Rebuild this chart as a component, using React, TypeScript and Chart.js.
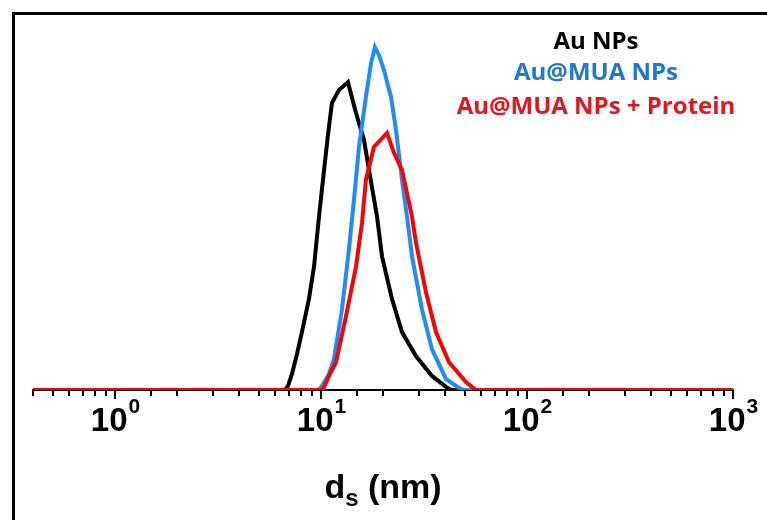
import React, { useEffect, useRef } from "react";
import { Chart, registerables } from "chart.js";

Chart.register(...registerables);

// ---- data (diameter in nm, relative intensity) ----
const X_MIN = 0.4;
const X_MAX = 1000;
const Y_MAX = 110;

const seriesNames = ["Au NPs", "Au@MUA NPs", "Au@MUA NPs + Protein"];
const lineColors = ["#000000", "#1e8cff", "#ff0000"];
const legendColors = ["#000000", "#1f78c8", "#e8141c"];

const auD = [6.69, 6.92, 7.23, 7.65, 8.08, 8.74, 9.25, 9.78, 10.35, 10.81, 11.3, 12.22, 13.52, 14.79, 16.17, 17.1, 18.71, 19.78, 22.13, 24.73, 28.91, 34.57, 40.45, 42.8];
const auV = [0, 1.2, 4.7, 10.5, 16.9, 26.5, 36.0, 50.6, 64.2, 74.4, 83.7, 87.5, 89.8, 80.8, 73.0, 64.2, 50.6, 39.0, 26.5, 16.9, 9.9, 4.1, 0.9, 0];

const muaD = [9.78, 10.11, 10.93, 11.56, 12.64, 13.67, 14.46, 15.29, 16.52, 17.49, 18.28, 19.13, 20.22, 21.87, 23.12, 24.73, 26.14, 27.66, 30.92, 34.57, 40.45, 46.77, 49.44];
const muaV = [0, 1.2, 4.7, 9.0, 23.5, 41.0, 55.5, 70.9, 85.5, 95.3, 100, 97.7, 93.3, 85.5, 75.9, 61.3, 50.6, 39.0, 23.5, 11.9, 3.2, 0.6, 0];

const protD = [10.11, 10.35, 11.06, 11.83, 13.22, 14.79, 15.82, 16.52, 18.07, 20.91, 22.61, 24.73, 27.66, 28.91, 32.34, 36.15, 41.83, 50.55, 56.53];
const protV = [0, 0.9, 4.7, 8.1, 21.5, 36.0, 48.8, 61.3, 70.9, 75.0, 69.2, 64.2, 50.6, 43.0, 28.5, 16.9, 8.1, 2.3, 0];

const majorTickValues = [1, 10, 100, 1000];
const majorTickExps = ["0", "1", "2", "3"];
const axisTitleMain = "d";
const axisTitleSub = "s";
const axisTitleUnit = " (nm)";

function toPoints(d: number[], v: number[]) {
  const pts = [{ x: X_MIN, y: 0 }];
  d.forEach((x, i) => pts.push({ x, y: v[i] }));
  pts.push({ x: X_MAX, y: 0 });
  return pts;
}

const axisPlugin = {
  id: "customAxis",
  afterDraw(chart: any) {
    const ctx = chart.ctx;
    const xs = chart.scales.x;
    const base = chart.chartArea.bottom;
    ctx.save();
    // tick marks
    ctx.strokeStyle = "#000";
    ctx.lineWidth = 2;
    xs.ticks.forEach((t: any) => {
      const v = t.value;
      const lg = Math.log10(v);
      const major = Math.abs(lg - Math.round(lg)) < 1e-9;
      const px = Math.round(xs.getPixelForValue(v));
      ctx.beginPath();
      ctx.moveTo(px, base + 1);
      ctx.lineTo(px, base + (major ? 9 : 6));
      ctx.stroke();
    });
    // tick labels 10^n
    ctx.fillStyle = "#000";
    ctx.textBaseline = "alphabetic";
    ctx.textAlign = "left";
    const big = "bold 33px 'Liberation Sans', Arial, sans-serif";
    const sup = "bold 21px 'Liberation Sans', Arial, sans-serif";
    majorTickValues.forEach((v, i) => {
      const px = xs.getPixelForValue(v);
      ctx.font = big;
      const w1 = ctx.measureText("10").width;
      ctx.font = sup;
      const w2 = ctx.measureText(majorTickExps[i]).width;
      const x0 = px - (w1 + w2) / 2;
      ctx.font = big;
      ctx.fillText("10", x0, base + 41);
      ctx.font = sup;
      ctx.fillText(majorTickExps[i], x0 + w1 + 1, base + 23);
    });
    // axis title
    const cx = (chart.chartArea.left + chart.chartArea.right) / 2;
    const tf = "bold 34px 'Liberation Sans', Arial, sans-serif";
    const sf = "bold 24px 'Liberation Sans', Arial, sans-serif";
    ctx.font = tf;
    const wd = ctx.measureText(axisTitleMain).width;
    const wu = ctx.measureText(axisTitleUnit).width;
    ctx.font = sf;
    const ws = ctx.measureText(axisTitleSub).width;
    let tx = cx - (wd + ws + wu) / 2;
    const ty = base + 108;
    ctx.font = tf;
    ctx.fillText(axisTitleMain, tx, ty);
    tx += wd;
    ctx.font = sf;
    ctx.fillText(axisTitleSub, tx, ty + 8);
    tx += ws;
    ctx.font = tf;
    ctx.fillText(axisTitleUnit, tx, ty);
    // legend text
    ctx.textAlign = "center";
    ctx.textBaseline = "middle";
    ctx.font = "bold 24px 'Open Sans', sans-serif";
    const legendY = [42, 73, 107];
    seriesNames.forEach((name, i) => {
      ctx.fillStyle = legendColors[i];
      ctx.fillText(name, 596, legendY[i]);
    });
    ctx.restore();
  },
};

export default function App() {
  const ref = useRef<HTMLCanvasElement>(null);
  useEffect(() => {
    if (!ref.current) return;
    const series = [
      { d: auD, v: auV, order: 3 },
      { d: muaD, v: muaV, order: 2 },
      { d: protD, v: protV, order: 1 },
    ];
    const chart = new Chart(ref.current, {
      type: "line",
      data: {
        datasets: series.map((s, i) => ({
          label: seriesNames[i],
          data: toPoints(s.d, s.v),
          borderColor: lineColors[i],
          backgroundColor: lineColors[i],
          borderWidth: 4,
          pointRadius: 0,
          tension: 0,
          fill: false,
          order: s.order,
        })),
      },
      options: {
        responsive: false,
        animation: false,
        layout: { padding: { left: 33, right: 34, top: 13, bottom: 0 } },
        scales: {
          x: {
            type: "logarithmic",
            min: X_MIN,
            max: X_MAX,
            afterFit: (s: any) => {
              s.height = 130;
            },
            ticks: { display: false },
            grid: { display: false },
            border: { display: true, color: "#000", width: 2 },
          },
          y: { display: false, min: 0, max: Y_MAX },
        },
        plugins: { legend: { display: false }, tooltip: { enabled: false } },
      },
      plugins: [axisPlugin],
    } as any);
    return () => chart.destroy();
  }, []);
  return (
    <div style={{ position: "fixed", left: 0, top: 0, width: 767, height: 520, background: "#fff" }}>
      <canvas ref={ref} width={767} height={520} style={{ position: "absolute", left: 0, top: 0 }} />
      <div
        style={{
          position: "absolute",
          left: 12,
          top: 12,
          width: 755,
          height: 508,
          borderLeft: "3px solid #000",
          borderTop: "3px solid #000",
          boxSizing: "border-box",
          pointerEvents: "none",
        }}
      />
    </div>
  );
}
